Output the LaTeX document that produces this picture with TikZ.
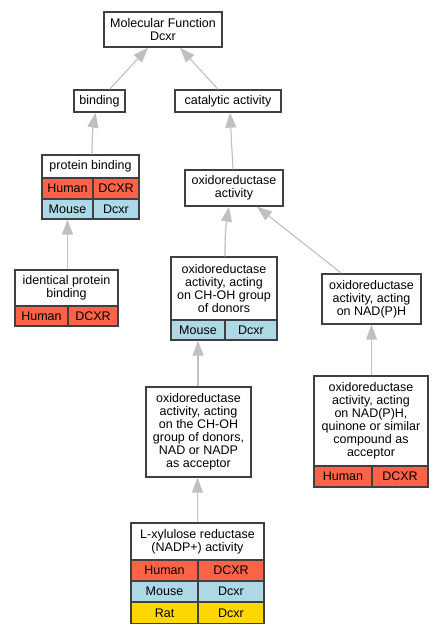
\documentclass[tikz,border=0pt]{standalone}
\usepackage{fontspec}
\setmainfont{Liberation Sans}
\usetikzlibrary{positioning, arrows.meta}
\definecolor{human}{HTML}{FF6347}
\definecolor{mouse}{HTML}{ADD8E6}
\definecolor{rat}{HTML}{FFD700}
\definecolor{edgegray}{HTML}{C0C0C0}
\definecolor{boxline}{HTML}{404040}

\begin{document}
\begin{tikzpicture}[x=1pt, y=-1pt,
  term/.style={draw=boxline, line width=1.4pt, fill=white, align=center, inner sep=0pt,
    font=\fontsize{12.5}{13}\selectfont},
  cell/.style={term, minimum height=21pt},
  isa/.style={-{Triangle[length=15pt, width=11pt]}, draw=edgegray, fill=edgegray, line width=1.1pt}]
\useasboundingbox (0,0) rectangle (443,635);

% Top of the tree
\node[term, minimum width=118pt, minimum height=35pt] (mf) at (163, 29.5) {Molecular Function\\Dcxr};
\node[term, minimum width=51pt, minimum height=22pt] (bind) at (99.5, 101) {binding};
\node[term, minimum width=106pt, minimum height=22pt] (cat) at (228, 101) {catalytic activity};

% Binding branch
\node[term, minimum width=97pt, minimum height=23pt] (pb) at (90.5, 166.5) {protein binding};
\node[cell, fill=human, minimum width=51pt] (pbh1) at (67.5, 188.5) {Human};
\node[cell, fill=human, minimum width=46pt] (pbh2) at (116, 188.5) {DCXR};
\node[cell, fill=mouse, minimum width=51pt, minimum height=20pt] (pbm1) at (67.5, 209) {Mouse};
\node[cell, fill=mouse, minimum width=46pt, minimum height=20pt] (pbm2) at (116, 209) {Dcxr};

\node[term, minimum width=103pt, minimum height=36pt] (ipb) at (66.5, 288) {identical protein\\binding};
\node[cell, fill=human, minimum width=53pt, minimum height=20pt] (ipbh1) at (41.5, 316) {Human};
\node[cell, fill=human, minimum width=50pt, minimum height=20pt] (ipbh2) at (93, 316) {DCXR};

% Catalytic branch
\node[term, minimum width=98pt, minimum height=36pt] (oa) at (234, 188) {oxidoreductase\\activity};

\node[term, minimum width=106pt, minimum height=63pt] (chg) at (224, 288.5) {oxidoreductase\\activity, acting\\on CH-OH group\\of donors};
\node[cell, fill=mouse, minimum width=54pt, minimum height=20pt] (chgm1) at (198, 330) {Mouse};
\node[cell, fill=mouse, minimum width=52pt, minimum height=20pt] (chgm2) at (251, 330) {Dcxr};

\node[term, minimum width=99pt, minimum height=50pt] (nadph) at (371.5, 299) {oxidoreductase\\activity, acting\\on NAD(P)H};

\node[term, minimum width=105pt, minimum height=90pt] (nad) at (198.5, 432) {oxidoreductase\\activity, acting\\on the CH-OH\\group of donors,\\NAD or NADP\\as acceptor};

\node[term, minimum width=114pt, minimum height=90pt] (quin) at (371, 421) {oxidoreductase\\activity, acting\\on NAD(P)H,\\quinone or similar\\compound as\\acceptor};
\node[cell, fill=human, minimum width=58pt] (quinh1) at (343, 476.5) {Human};
\node[cell, fill=human, minimum width=56pt] (quinh2) at (400, 476.5) {DCXR};

% Leaf term
\node[term, minimum width=133pt, minimum height=37pt] (lx) at (197.5, 541.5) {L-xylulose reductase\\(NADP+) activity};
\node[cell, fill=human, minimum width=67pt] (lxh1) at (164.5, 570.5) {Human};
\node[cell, fill=human, minimum width=66pt] (lxh2) at (231, 570.5) {DCXR};
\node[cell, fill=mouse, minimum width=67pt] (lxm1) at (164.5, 591.5) {Mouse};
\node[cell, fill=mouse, minimum width=66pt] (lxm2) at (231, 591.5) {Dcxr};
\node[cell, fill=rat, minimum width=67pt] (lxr1) at (164.5, 613) {Rat};
\node[cell, fill=rat, minimum width=66pt] (lxr2) at (231, 613) {Dcxr};

% is_a edges
\draw[isa] ([xshift=10pt]bind.north) -- ([xshift=-15pt]mf.south);
\draw[isa] ([xshift=-10pt]cat.north) -- ([xshift=17pt]mf.south);
\draw[isa] ([xshift=1.5pt]pb.north) to[bend left=5] ([xshift=-4pt]bind.south);
\draw[isa] (pbm1.south |- ipb.north) -- (pbm1.south);
\draw[isa] ([xshift=-1pt]oa.north) -- ([xshift=2pt]cat.south);
\draw[isa] ([xshift=1pt]chg.north) to[bend left=5] ([xshift=-5pt]oa.south);
\draw[isa] ([xshift=-30pt]nadph.north) -- ([xshift=23pt]oa.south);
\draw[isa] (chgm1.south |- nad.north) -- (chgm1.south);
\draw[isa] (nadph.south |- quin.north) -- (nadph.south);
\draw[isa] (lx.north) -- (lx.north |- nad.south);
\end{tikzpicture}
\end{document}
